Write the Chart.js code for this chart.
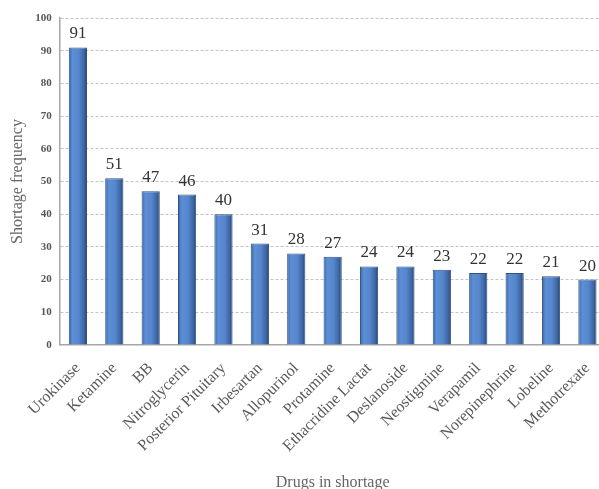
<!DOCTYPE html>
<html>
<head>
<meta charset="utf-8">
<script src="https://cdn.jsdelivr.net/npm/chart.js@4/dist/chart.umd.min.js"></script>
<style>
  html, body { margin: 0; padding: 0; background: #fff; overflow: hidden; }
  #wrap { width: 615px; height: 489px; }
</style>
</head>
<body>
<div id="wrap"><canvas id="chartShortage" width="615" height="489"></canvas></div>
<script>
// Data obat yang kekurangan stok
const drugs = ['Urokinase', 'Ketamine', 'BB', 'Nitroglycerin', 'Posterior Pituitary',
  'Irbesartan', 'Allopurinol', 'Protamine', 'Ethacridine Lactat', 'Deslanoside',
  'Neostigmine', 'Verapamil', 'Norepinephrine', 'Lobeline', 'Methotrexate'];
const frequency = [91, 51, 47, 46, 40, 31, 28, 27, 24, 24, 23, 22, 22, 21, 20];
const yTicks = [0, 10, 20, 30, 40, 50, 60, 70, 80, 90, 100];

const serif = '"Liberation Serif", "Times New Roman", serif';

// Gradien horizontal ala silinder untuk tiap batang
function barGradient(ctx) {
  const chart = ctx.chart;
  const xScale = chart.scales.x;
  if (!xScale || xScale.width === undefined) return '#4f81c7';
  const cx = xScale.getPixelForValue(ctx.dataIndex);
  const half = 9;
  const g = chart.ctx.createLinearGradient(cx - half, 0, cx + half, 0);
  g.addColorStop(0, '#3d64a0');
  g.addColorStop(0.2, '#5b8fd6');
  g.addColorStop(0.55, '#5686cc');
  g.addColorStop(0.85, '#3c65a3');
  g.addColorStop(1, '#243f68');
  return g;
}

// Label nilai di atas batang
const valueLabels = {
  id: 'valueLabels',
  afterDatasetsDraw(chart) {
    const c = chart.ctx;
    const meta = chart.getDatasetMeta(0);
    c.save();
    c.font = '17px ' + serif;
    c.fillStyle = '#333';
    c.textAlign = 'center';
    c.textBaseline = 'bottom';
    meta.data.forEach((bar, i) => {
      c.fillText(String(frequency[i]), bar.x, bar.y - 5);
    });
    c.restore();
  }
};

new Chart(document.getElementById('chartShortage'), {
  type: 'bar',
  data: {
    labels: drugs,
    datasets: [{
      data: frequency,
      backgroundColor: barGradient,
      borderColor: '#30527f',
      borderWidth: 1,
      categoryPercentage: 1,
      barPercentage: 0.5
    }]
  },
  options: {
    responsive: false,
    animation: false,
    layout: { padding: { top: 18, left: 4, right: 0, bottom: 0 } },
    plugins: { legend: { display: false }, tooltip: { enabled: false } },
    scales: {
      y: {
        min: 0,
        max: 100,
        afterBuildTicks: axis => { axis.ticks = yTicks.map(v => ({ value: v })); },
        ticks: {
          font: { family: serif, size: 11, weight: 'bold' },
          color: '#555',
          padding: 8
        },
        grid: {
          color: '#c4c4c4',
          drawTicks: false
        },
        // dash di v4 berlaku untuk garis grid
        border: { display: true, color: '#a6a6a6', width: 1.5, dash: [3, 2] },
        title: {
          display: true,
          text: 'Shortage frequency',
          font: { family: serif, size: 16 },
          color: '#666',
          padding: { bottom: 0 }
        }
      },
      x: {
        grid: { display: false, drawTicks: false },
        border: { display: true, color: '#a6a6a6', width: 1.5 },
        ticks: {
          autoSkip: false,
          minRotation: 45,
          maxRotation: 45,
          font: { family: serif, size: 16 },
          color: '#595959',
          padding: 14
        },
        title: {
          display: true,
          text: 'Drugs in shortage',
          font: { family: serif, size: 16 },
          color: '#666',
          padding: { top: 3, bottom: -3 }
        }
      }
    }
  },
  plugins: [valueLabels]
});
</script>
</body>
</html>
